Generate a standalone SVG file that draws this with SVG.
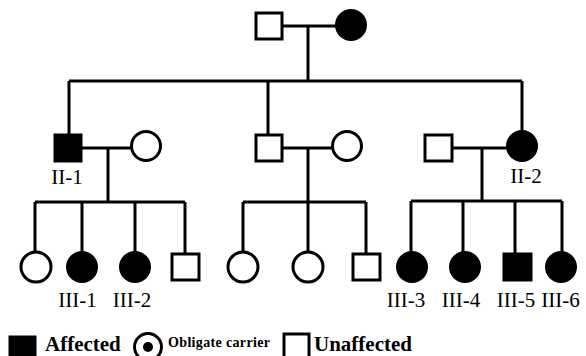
<svg xmlns="http://www.w3.org/2000/svg" width="586" height="356" viewBox="0 0 586 356">
<style>
.ln{stroke:#000;stroke-width:3;fill:none}
.o{fill:#fff;stroke:#000;stroke-width:3}
.f{fill:#000;stroke:#000;stroke-width:3}
.lb{font-family:"Liberation Serif","Times New Roman",serif;font-size:21px;fill:#000;text-anchor:middle}
.lg{font-family:"Liberation Serif","Times New Roman",serif;font-weight:bold;fill:#000}
</style>
<rect width="586" height="356" fill="#fff"/>
<g id="connectors">
<path class="ln" d="M282 26H336M308 26V81M69 81H522M69 81V135M268 81V135M522 81V131"/>
<path class="ln" d="M81 148H131M108 148V202M35 202H185M35 202V252M82 202V252M135 202V252M185 202V254"/>
<path class="ln" d="M283 148H332M308 148V202M243 202H366M243 202V252M308 202V252M366 202V254"/>
<path class="ln" d="M452 148H508M482 148V201M411 201H562M411 201V252M463 201V252M515 201V254M562 201V252"/>
</g>
<g id="I-1"><rect class="o" x="256" y="13" width="26" height="26"/></g>
<g id="I-2"><circle class="f" cx="351" cy="25" r="14.5"/></g>
<g id="II-1"><rect class="f" x="55" y="135" width="26" height="26"/><text class="lb" x="67" y="184">II-1</text></g>
<g id="II-1-spouse"><circle class="o" cx="146" cy="146" r="14.5"/></g>
<g id="II-mid"><rect class="o" x="256" y="135" width="26" height="26"/></g>
<g id="II-mid-spouse"><circle class="o" cx="347" cy="146" r="14.5"/></g>
<g id="II-2-spouse"><rect class="o" x="425" y="135" width="27" height="26"/></g>
<g id="II-2"><circle class="f" cx="522" cy="146" r="14.5"/><text class="lb" x="526" y="183">II-2</text></g>
<g id="c1"><circle class="o" cx="36" cy="267" r="15"/></g>
<g id="III-1"><circle class="f" cx="82" cy="267" r="14.5"/><text class="lb" x="77.5" y="307">III-1</text></g>
<g id="III-2"><circle class="f" cx="135" cy="267" r="14.5"/><text class="lb" x="132" y="307">III-2</text></g>
<g id="c4"><rect class="o" x="172" y="254" width="27" height="26"/></g>
<g id="c5"><circle class="o" cx="243" cy="267" r="15"/></g>
<g id="c6"><circle class="o" cx="308" cy="267" r="15"/></g>
<g id="c7"><rect class="o" x="353" y="254" width="27" height="26"/></g>
<g id="III-3"><circle class="f" cx="412" cy="267" r="14.5"/><text class="lb" x="406" y="307">III-3</text></g>
<g id="III-4"><circle class="f" cx="465" cy="267" r="14.5"/><text class="lb" x="461" y="307">III-4</text></g>
<g id="III-5"><rect class="f" x="504" y="254" width="27" height="26"/><text class="lb" x="516" y="307">III-5</text></g>
<g id="III-6"><circle class="f" cx="561" cy="267" r="14.5"/><text class="lb" x="560.5" y="307">III-6</text></g>
<g id="legend">
<rect class="f" x="10" y="337" width="25" height="22"/>
<text class="lg" x="45" y="351" font-size="21">Affected</text>
<circle class="o" cx="148" cy="347" r="13.5"/>
<circle cx="148" cy="347" r="5" fill="#000"/>
<text class="lg" x="168" y="347" font-size="14" textLength="102" lengthAdjust="spacing">Obligate carrier</text>
<rect class="o" x="284" y="334" width="25" height="25"/>
<text class="lg" x="314" y="351" font-size="21">Unaffected</text>
</g>
</svg>
